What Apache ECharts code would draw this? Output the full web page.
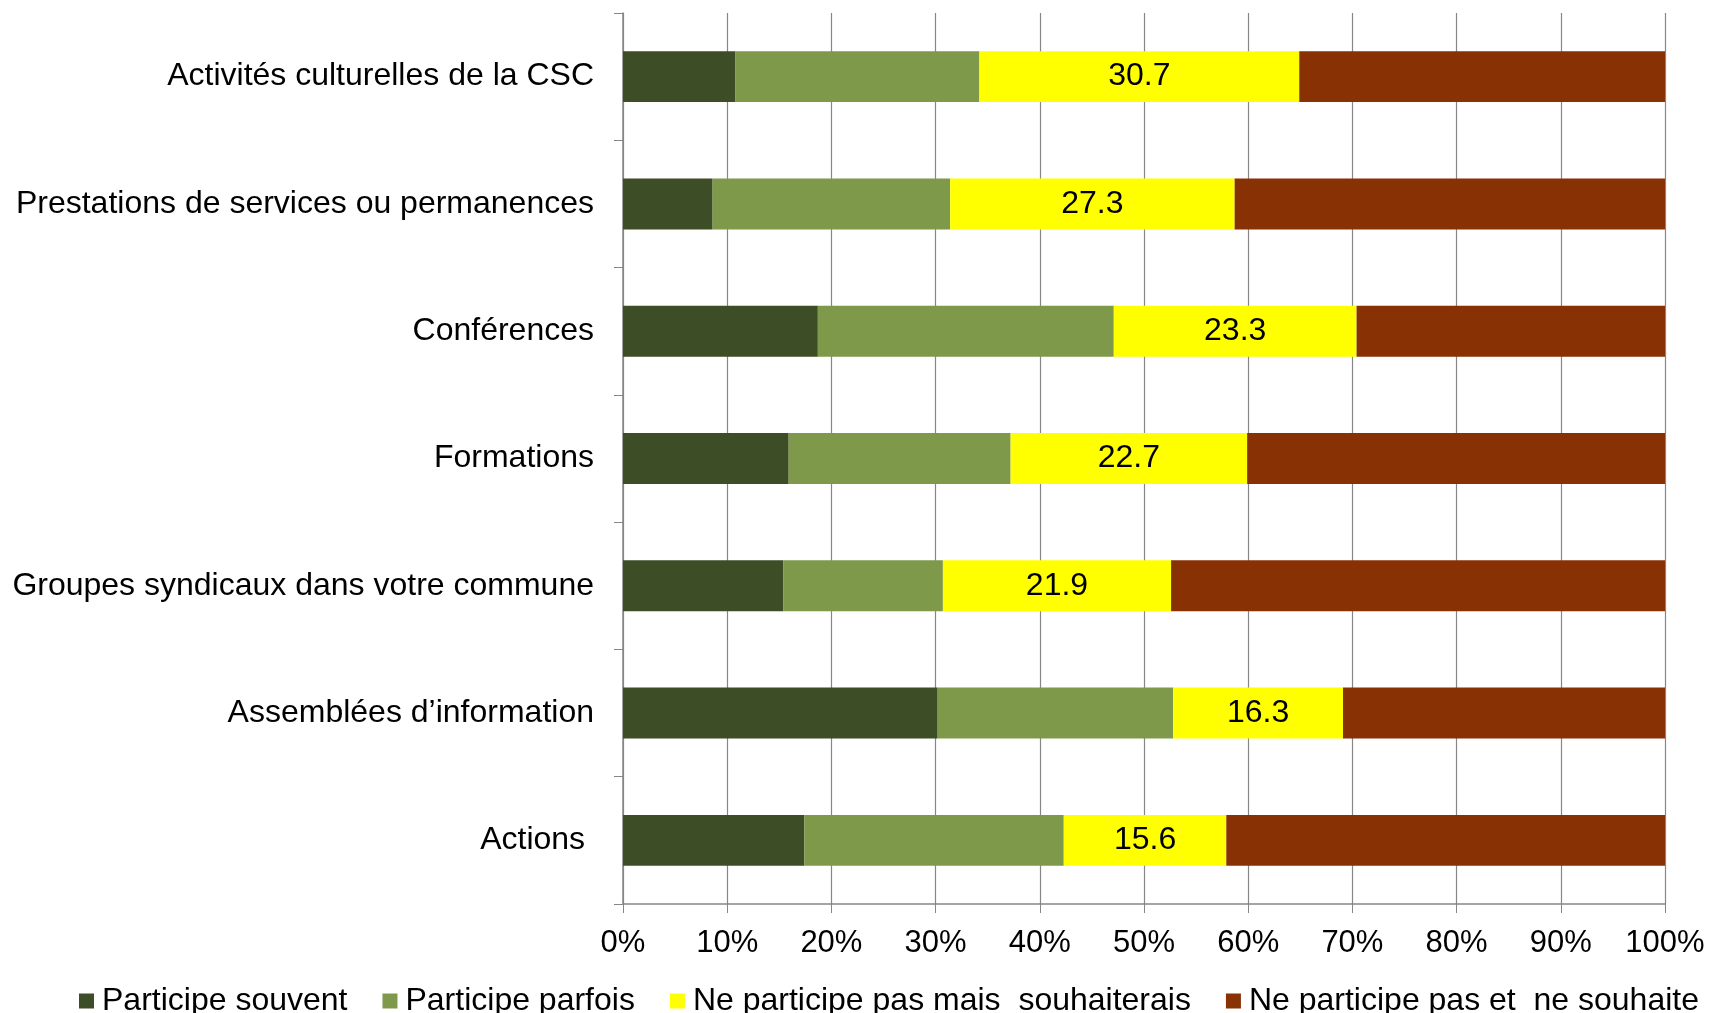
<!DOCTYPE html>
<html><head><meta charset="utf-8">
<script src="https://cdn.jsdelivr.net/npm/echarts@6/dist/echarts.min.js"></script>
<style>html,body{margin:0;padding:0;background:#fff}#c{width:1712px;height:1013px}</style>
</head><body><div id="c"></div>
<script>
const categories = [
  "Activités culturelles de la CSC",
  "Prestations de services ou permanences",
  "Conférences",
  "Formations",
  "Groupes syndicaux dans votre commune",
  "Assemblées d’information",
  "Actions "
];
const seriesNames = ["Participe souvent", "Participe parfois", "Ne participe pas mais  souhaiterais", "Ne participe pas et  ne souhaite"];
const souvent   = [10.8, 8.6, 18.7, 15.9, 15.4, 30.2, 17.4];
const parfois   = [23.4, 22.8, 28.4, 21.3, 15.3, 22.6, 24.9];
const souhait   = [30.7, 27.3, 23.3, 22.7, 21.9, 16.3, 15.6];
const nonSouhait= [35.1, 41.3, 29.6, 40.1, 47.4, 30.9, 42.1];
const xTicks = [0,10,20,30,40,50,60,70,80,90,100];
const colors = ["#3D4D26", "#7F994B", "#FFFF00", "#873105"];

const font = "Liberation Sans, Arial, sans-serif";
const chart = echarts.init(document.getElementById('c'));
const vals = [souvent, parfois, souhait, nonSouhait];
chart.setOption({
  animation: false,
  textStyle: {fontFamily: font},
  grid: {left: 623, right: 47, top: 13, bottom: 109},
  legend: {
    left: 74, top: 980, itemWidth: 15, itemHeight: 15, itemGap: 35,
    icon: 'rect',
    textStyle: {fontSize: 32, color: '#000', fontFamily: font, padding: [0,0,0,3]},
    data: seriesNames
  },
  xAxis: {
    type: 'value', min: 0, max: 100, interval: 10,
    axisLine: {show: true, lineStyle: {color: '#868686', width: 1.5}},
    axisTick: {show: true, length: 9, lineStyle: {color: '#868686'}},
    splitLine: {show: true, lineStyle: {color: '#868686', width: 1.2}},
    axisLabel: {fontSize: 31, color: '#000', margin: 24, fontFamily: font,
      formatter: v => xTicks.includes(v) ? v + '%' : ''}
  },
  yAxis: {
    type: 'category', inverse: true, data: categories,
    axisLine: {show: true, lineStyle: {color: '#868686', width: 1.5}},
    axisTick: {show: true, length: 9, inside: false, lineStyle: {color: '#868686'}},
    axisLabel: {fontSize: 32, color: '#000', margin: 29, fontFamily: font}
  },
  series: seriesNames.map((n, i) => ({
    name: n, type: 'bar', stack: 'total', barWidth: '40%',
    itemStyle: {color: colors[i]},
    label: i === 2 ? {show: true, position: 'inside', color: '#000', fontSize: 32, fontFamily: font,
      formatter: p => p.value.toFixed(1)} : {show: false},
    data: vals[i]
  }))
});
</script></body></html>
